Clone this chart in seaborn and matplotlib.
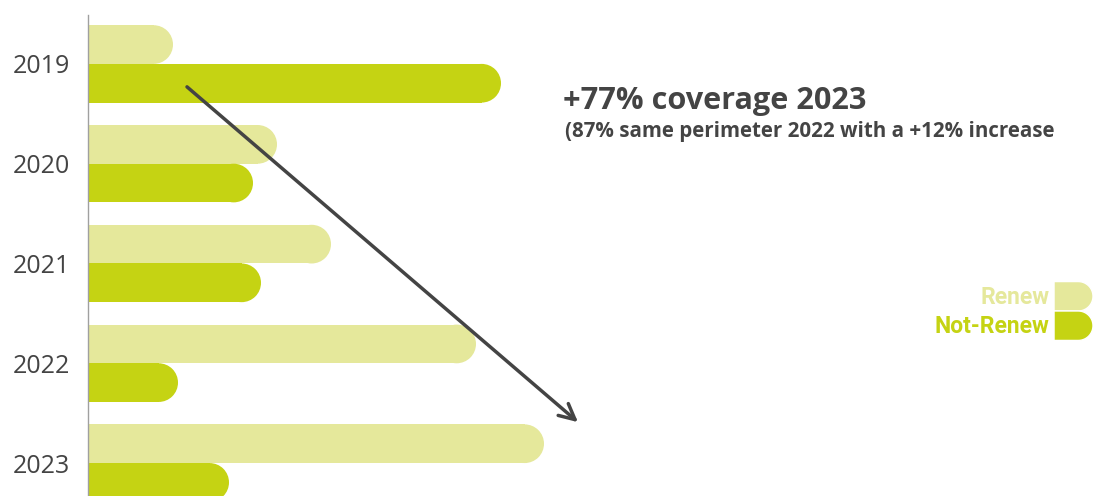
import numpy as np
import pandas as pd
import matplotlib.pyplot as plt
import seaborn as sns
from matplotlib.patches import Ellipse, Polygon, Patch
from matplotlib.legend_handler import HandlerPatch

# data (bar lengths, arbitrary units)
years = ['2019', '2020', '2021', '2022', '2023']
renew = [85, 189, 243, 388, 456]
not_renew = [413, 165, 173, 90, 141]
series = ['Renew', 'Not-Renew']
colors = {'Renew': '#e5e89b', 'Not-Renew': '#c5d313'}

title = '+77% coverage 2023'
subtitle = '(87% same perimeter 2022 with a +12% increase'

df = pd.DataFrame({'year': years * 2,
                   'value': renew + not_renew,
                   'type': ['Renew'] * len(years) + ['Not-Renew'] * len(years)})

sns.set_style('white')
plt.rcParams['font.family'] = ['Open Sans', 'DejaVu Sans']

fig = plt.figure(figsize=(10.93, 4.96), dpi=100)
ax = fig.add_axes([88 / 1093, 0, 1005 / 1093, 481 / 496])
sns.barplot(data=df, y='year', x='value', hue='type', order=years, hue_order=series,
            palette=colors, orient='h', width=0.775, saturation=1, errorbar=None,
            legend=False, ax=ax)
ax.set_xlim(0, 1005)
ax.set_ylim(4.33, -0.49)

# round off the right end of each bar
p0 = ax.transData.transform((0, 0))
p1 = ax.transData.transform((1, 1))
sx, sy = abs(p1[0] - p0[0]), abs(p1[1] - p0[1])
for bar in list(ax.patches):
    x, y, w, h = bar.get_x(), bar.get_y(), bar.get_width(), bar.get_height()
    r = abs(h) * sy / 2 / sx
    bar.set_width(w - r)
    bar.set_linewidth(0)
    ax.add_patch(Ellipse((x + w - r, y + h / 2), 2 * r, abs(h),
                         facecolor=bar.get_facecolor(), lw=0))

sns.despine(ax=ax, bottom=True)
ax.spines['left'].set_color('#a0a0a0')
ax.spines['left'].set_linewidth(1)
ax.set_xticks([])
ax.set_xlabel('')
ax.set_ylabel('')
ax.tick_params(axis='y', length=0, pad=13, labelsize=18, labelcolor='#444444')

# trend arrow
ax.annotate('', xy=(490, 3.59), xytext=(99, 0.23),
            arrowprops=dict(arrowstyle='->', lw=2.5, color='#444444',
                            mutation_scale=28, shrinkA=0, shrinkB=0))

fig.text(563 / 1093, 1 - 101 / 496, title, fontsize=22.1, fontweight='bold',
         color='#444444', va='center', ha='left')
fig.text(565 / 1093, 1 - 131 / 496, subtitle, fontsize=14.8, fontweight='bold',
         color='#444444', va='center', ha='left')


def rounded_swatch(legend, orig_handle, xdescent, ydescent, width, height, fontsize):
    r = height / 2
    t = np.linspace(np.pi / 2, -np.pi / 2, 30)
    xs = np.r_[-xdescent, -xdescent + width - r + r * np.cos(t), -xdescent]
    ys = np.r_[-ydescent + height, -ydescent + r + r * np.sin(t), -ydescent]
    return Polygon(np.c_[xs, ys], closed=True)


handles = [Patch(facecolor=colors[s], label=s) for s in series]
leg = fig.legend(handles=handles, loc='center right', bbox_to_anchor=(1.0, 1 - 311 / 496),
                 markerfirst=False, frameon=False, labelspacing=0, handletextpad=0.2,
                 handlelength=1.7, handleheight=1.6, borderpad=0, borderaxespad=0,
                 handler_map={Patch: HandlerPatch(patch_func=rounded_swatch)},
                 prop=dict(family=['Roboto', 'DejaVu Sans'], weight='bold', size=16.5))
for txt, s in zip(leg.get_texts(), series):
    txt.set_color(colors[s])

fig.savefig('out.png', dpi=100)
